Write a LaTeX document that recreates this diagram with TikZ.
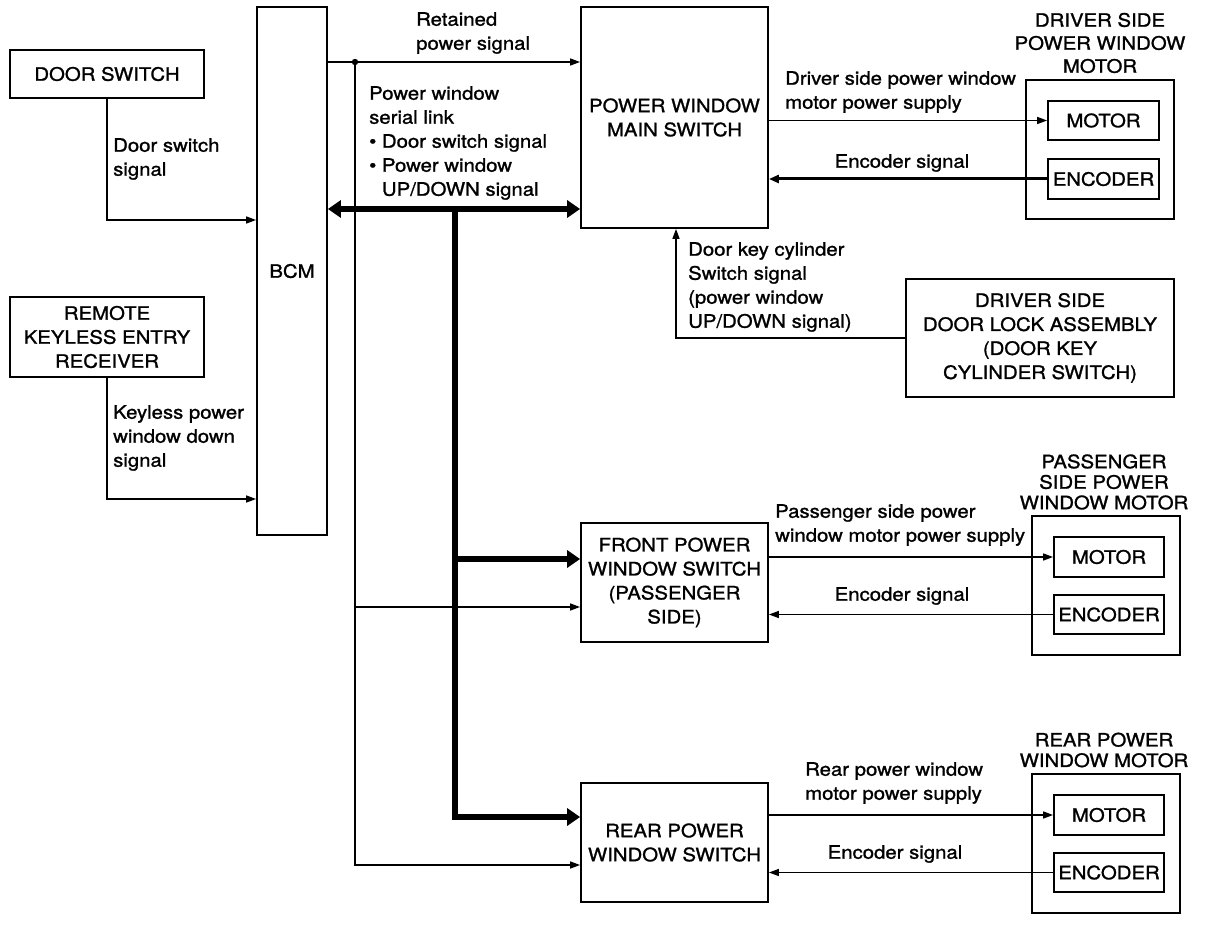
\documentclass[tikz,border=0pt]{standalone}
\usepackage{fontspec}
\setmainfont{TeX Gyre Heros}[FakeStretch=1.1, FakeBold=1.2]
\usetikzlibrary{arrows.meta}
\begin{document}
\begin{tikzpicture}[x=1pt,y=-1pt,
  every node/.style={font=\fontsize{18.5}{24}\selectfont, inner sep=0pt},
  box/.style={draw, line width=1.8pt, align=center},
  lbl/.style={align=left, anchor=west},
  ttl/.style={align=center, font=\fontsize{18.5}{20.5}\selectfont},
  wire/.style={line width=1.5pt},
  arr/.style={wire, -{Triangle[length=10pt,width=7pt]}},
  enc/.style={line width=3pt, -{Triangle[length=10pt,width=8pt]}},
  bus/.style={line width=6pt},
  bustip/.style={-{Triangle[length=13pt,width=17pt]}},
]
\useasboundingbox[fill=white] (0,0) rectangle (1216,944);

% boxes
\node[box, minimum width=194, minimum height=48] (door) at (107,74) {DOOR SWITCH};
\node[box, minimum width=194, minimum height=80] (rke) at (107,337) {REMOTE\\KEYLESS ENTRY\\RECEIVER};
\node[box, minimum width=70, minimum height=528] (bcm) at (292,271) {BCM};
\node[box, minimum width=187, minimum height=221] (pwms) at (674.5,117.5) {POWER WINDOW\\MAIN SWITCH};

\node[box, minimum width=148, minimum height=139] (dmot) at (1100,149.5) {};
\node[box, minimum width=111, minimum height=39] (dmotor) at (1103.5,120.5) {MOTOR};
\node[box, minimum width=111, minimum height=40] (denc) at (1103.5,179) {ENCODER};
\node[ttl, font=\fontsize{18.5}{23}\selectfont] (dmtitle) at (1100,43) {DRIVER SIDE\\POWER WINDOW\\MOTOR};

\node[box, minimum width=268, minimum height=118] (lock) at (1040,338) {DRIVER SIDE\\DOOR LOCK ASSEMBLY\\(DOOR KEY\\CYLINDER SWITCH)};

\node[box, minimum width=187, minimum height=119] (fpws) at (674.5,582.5) {FRONT POWER\\WINDOW SWITCH\\(PASSENGER\\SIDE)};
\node[box, minimum width=148, minimum height=139] (pmot) at (1106,585.5) {};
\node[box, minimum width=110, minimum height=40] (pmotor) at (1109,557) {MOTOR};
\node[box, minimum width=110, minimum height=39] (penc) at (1109,614.5) {ENCODER};
\node[ttl] (pmtitle) at (1104,482) {PASSENGER\\SIDE POWER\\WINDOW MOTOR};

\node[box, minimum width=187, minimum height=119] (rpws) at (674.5,842.5) {REAR POWER\\WINDOW SWITCH};
\node[box, minimum width=148, minimum height=139] (rmot) at (1106,843.5) {};
\node[box, minimum width=110, minimum height=40] (rmotor) at (1109,815) {MOTOR};
\node[box, minimum width=110, minimum height=39] (renc) at (1109,872.5) {ENCODER};
\node[ttl] (rmtitle) at (1104,750) {REAR POWER\\WINDOW MOTOR};

% helper coordinates
\coordinate (yds) at (0,220);
\coordinate (ykl) at (0,499);
\coordinate (dot) at (355,62);
\coordinate (ybus) at (0,209);
\coordinate (bus) at (455,209);
\coordinate (busF) at (455,559);
\coordinate (yrb) at (0,817);
\coordinate (tapF) at (355,607);
\coordinate (yrt) at (0,865);
\coordinate (dk) at (676,0);

% left side
\draw[arr] (door.south) |- (bcm.west |- yds);
\draw[arr] (rke.south) |- (bcm.west |- ykl);

% retained power + thin taps
\draw[arr] (bcm.east |- dot) -- (pwms.west |- dot);
\fill (dot) circle (3.2);
\draw[arr] (dot) |- (rpws.west |- yrt);
\draw[arr] (tapF) -- (fpws.west |- tapF);

% serial bus
\draw[bus, {Triangle[length=13pt,width=17pt]}-{Triangle[length=13pt,width=17pt]}] (bcm.east |- ybus) -- (pwms.west |- ybus);
\draw[bus, bustip] (bus) |- (rpws.west |- yrb);
\draw[bus, bustip] (busF) -- (fpws.west |- busF);

% driver side
\draw[arr] (pwms.east |- dmotor.west) -- (dmotor.west);
\draw[enc] (denc.west) -- (pwms.east |- denc.west);
\draw[arr] (lock.west) -| (dk |- pwms.south);

% passenger
\draw[arr] (fpws.east |- pmotor.west) -- (pmotor.west);
\draw[arr] (penc.west) -- (fpws.east |- penc.west);

% rear
\draw[arr] (rpws.east |- rmotor.west) -- (rmotor.west);
\draw[arr] (renc.west) -- (rpws.east |- renc.west);

% labels
\node[lbl] (l1) at (113,159) {Door switch\\signal};
\node[lbl] (l2) at (113,438) {Keyless power\\window down\\signal};
\node[lbl] (l3) at (416,33) {Retained\\power signal};
\node[lbl] (l4) at (369,143) {Power window\\serial link\\\textbullet\ Door switch signal\\\textbullet\ Power window\\\phantom{\textbullet\ }UP/DOWN signal};
\node[lbl] (l5) at (785,92) {Driver side power window\\motor power supply};
\node (l6) at (902,163) {Encoder signal};
\node[lbl] (l7) at (688,287) {Door key cylinder\\Switch signal\\(power window\\UP/DOWN signal)};
\node[lbl] (l8) at (775,525) {Passenger side power\\window motor power supply};
\node (l9) at (902,596) {Encoder signal};
\node[lbl] (l10) at (805,783) {Rear power window\\motor power supply};
\node (l11) at (895,854) {Encoder signal};
\end{tikzpicture}
\end{document}
